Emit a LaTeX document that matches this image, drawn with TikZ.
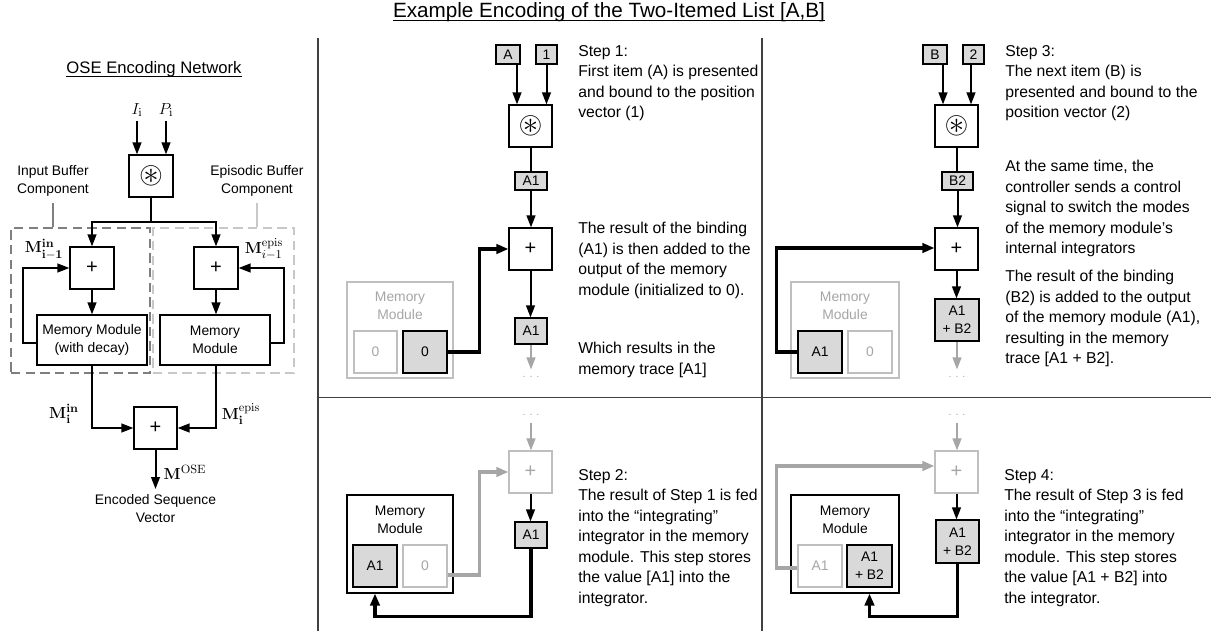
\documentclass[tikz,border=0pt]{standalone}
\usepackage{amsmath,amssymb,graphicx}
\usepackage[no-math]{fontspec}
\setmainfont{Liberation Sans}
\usetikzlibrary{arrows.meta,calc}
\definecolor{gfill}{HTML}{D9D9D9}
\definecolor{lgray}{HTML}{BFBFBF}
\definecolor{mgray}{HTML}{A6A6A6}
\definecolor{dgray}{HTML}{7F7F7F}
\definecolor{ldash}{HTML}{C8C8C8}
\definecolor{divc}{HTML}{404040}
\newcommand{\convsym}{\scalebox{2.3}{$\circledast$}}
\tikzset{
  wh/.style 2 args={minimum width=#1*0.75pt, minimum height=#2*0.75pt},
  box/.style={draw=black, line width=0.8pt, fill=white, inner sep=0pt, align=center, font=\fontsize{10.4}{13.5}\selectfont},
  gbox/.style={box, fill=gfill},
  lbox/.style={box, draw=lgray, text=mgray},
  opbox/.style={box, wh={43}{42}, font=\fontsize{15}{15}\selectfont},
  lopbox/.style={opbox, draw=lgray, text=mgray},
  convbox/.style={opbox, font=\fontsize{10}{10}\selectfont},
  tip/.style={-{Triangle[length=9pt,width=6.5pt]}},
  conn/.style={line width=1.5pt, tip},
  link/.style={line width=1.5pt},
  fb/.style={line width=2.4pt, -{Triangle[length=9pt,width=7pt]}},
  gfb/.style={fb, draw=mgray},
  garr/.style={conn, draw=mgray},
  txt/.style={inner sep=0pt, align=left, anchor=north west, font=\fontsize{11.8}{15.4}\selectfont},
  lbl/.style={inner sep=0pt, align=center, font=\fontsize{10.4}{13.7}\selectfont},
  mlbl/.style={inner sep=0pt, font=\fontsize{12.5}{14}\selectfont},
  dots/.style={inner sep=5pt, text=mgray, font=\fontsize{8}{8}\selectfont},
  divider/.style={draw=divc, line width=1.1pt},
  dbox/.style={draw, line width=1.5pt, dash pattern=on 7pt off 4pt, inner sep=0pt},
}
\begin{document}
\begin{tikzpicture}[x=0.75pt,y=-0.75pt]
\useasboundingbox (0,0) rectangle (1211,631);

% ---------- titles and dividers ----------
\node[inner sep=0pt, anchor=base, font=\fontsize{15.5}{18}\selectfont] (title) at (609,18) {Example Encoding of the Two-Itemed List [A,B]};
\draw[line width=0.8pt] ($(title.base west)+(0,2.5)$) -- ($(title.base east)+(0,2.5)$);
\draw[divider] (318,38) -- (318,631);
\draw[divider] (762,38) -- (762,631);
\draw[divider] (318,397.5) -- (1211,397.5);

% ---------- left panel ----------
\node[inner sep=0pt, anchor=base, font=\fontsize{12.5}{15}\selectfont] (osetitle) at (154,74) {OSE Encoding Network};
\draw[line width=0.7pt] ($(osetitle.base west)+(0,2.5)$) -- ($(osetitle.base east)+(0,2.5)$);

\node[dbox, draw=dgray, wh={139}{145}] (ibuf) at (80.5,300.5) {};
\node[dbox, draw=ldash, wh={141}{145}] (ebuf) at (223.5,300.5) {};

\node[lbl] (iblbl) at (53,181) {Input Buffer\\Component};
\node[lbl] (eblbl) at (257,181) {Episodic Buffer\\Component};
\path (iblbl.south) ++(0,6) coordinate (ibls);
\path (eblbl.south) ++(0,6) coordinate (ebls);
\draw[dgray, line width=1.5pt] (ibls) -- (ibls |- ibuf.north);
\draw[ldash, line width=1.5pt] (ebls) -- (ebls |- ebuf.north);

\node[mlbl] (Ii) at (137,110) {$I_{\mathrm{i}}$};
\node[mlbl] (Pi) at (166,110) {$P_{\mathrm{i}}$};
\node[convbox, wh={44}{42}] (conv0) at (151,176) {\convsym};
\path (Ii.south) ++(0,4) coordinate (Iis);
\path (Pi.south) ++(0,4) coordinate (Pis);
\draw[conn] (Iis) -- (Iis |- conv0.north);
\draw[conn] (Pis) -- (Pis |- conv0.north);

\node[opbox, wh={44}{42}] (plusL) at (92,268) {+};
\node[opbox, wh={44}{42}] (plusR) at (216,268) {+};
\node[box, wh={110}{50}] (memL) at (92,340) {Memory Module\\(with decay)};
\node[box, wh={110}{50}] (memR) at (215,340) {Memory\\Module};
\node[opbox] (plusO) at (155.5,428) {+};

\path (conv0.south) ++(0,24) coordinate (br);
\draw[link] (conv0.south) -- (br);
\draw[conn] (br) -| (plusL.north);
\draw[conn] (br) -| (plusR.north);
\draw[conn] (plusL.south) -- (plusL.south |- memL.north);
\draw[conn] (plusR.south) -- (plusR.south |- memR.north);
\draw[conn] ($(memL.west)+(0,3)$) -- ++(-13,0) |- (plusL.west);
\draw[conn] ($(memR.east)+(0,3)$) -- ++(13,0) |- (plusR.east);
\draw[conn] (memL.south) |- (plusO.west);
\draw[conn] (plusR.south |- memR.south) |- (plusO.east);
\coordinate (oseend) at (155.5,489);
\draw[conn] (plusO.south) -- (oseend);

\node[mlbl] (mlin) at (44,249) {$\mathbf{M}^{\mathbf{in}}_{\mathbf{i-1}}$};
\node[mlbl] (mrep) at (264,249) {$\mathbf{M}^{\mathrm{epis}}_{i-1}$};
\node[mlbl] (mlo) at (64,414) {$\mathbf{M}^{\mathbf{in}}_{\mathbf{i}}$};
\node[mlbl] (mro) at (241,414) {$\mathbf{M}^{\mathrm{epis}}_{\mathbf{i}}$};
\node[mlbl] (mose) at (185,472) {$\mathbf{M}^{\mathrm{OSE}}$};
\node[lbl, anchor=north] (encv) at (155.5,494) {Encoded Sequence\\Vector};

% ---------- panel 1 ----------
\node[gbox, wh={24}{19}] (inA) at (508,54.5) {A};
\node[gbox, wh={21}{19}] (in1) at (546.5,54.5) {1};
\node[convbox] (conv1) at (530.5,126) {\convsym};
\path (inA.south) ++(9,0) coordinate (inAs);
\draw[conn] (inAs) -- (inAs |- conv1.north);
\draw[conn] (in1.south) -- (in1.south |- conv1.north);
\node[gbox, wh={32}{18}] (r1) at (531,181) {A1};
\draw[link] (conv1.south) -- (conv1.south |- r1.north);
\node[opbox] (plus1) at (530.5,249) {+};
\draw[conn] (r1.south) -- (r1.south |- plus1.north);
\node[gbox, wh={32}{26}] (o1) at (531,331) {A1};
\draw[conn] (plus1.south) -- (plus1.south |- o1.north);
\node[dots] (d1) at (531,377) {. . .};
\draw[garr] (o1.south) -- (o1.south |- d1.north);
\node[lbox, wh={106}{96}] (mem1) at (400,330) {};
\node[lbl, text=mgray] (mem1t) at (400,306) {Memory\\Module};
\node[lbox, wh={43}{42}] (m1a) at (375.5,352) {0};
\node[gbox, wh={44}{42}] (m1b) at (425,352) {0};
\draw[fb] (m1b.east) -- ++(32,0) |- (plus1.west);
\node[txt] (t1a) at (578,45) {Step 1:\\First item (A) is presented\\and bound to the position\\vector (1)};
\node[txt] (t1b) at (578,222) {The result of the binding\\(A1) is then added to the\\output of the memory\\module (initialized to 0).};
\node[txt] (t1c) at (578,342) {Which results in the\\memory trace [A1]};

% ---------- panel 2 ----------
\node[dots] (d2) at (531,415) {. . .};
\node[lopbox] (plus2) at (530.5,472) {+};
\draw[garr] (d2.south) -- (d2.south |- plus2.north);
\node[gbox, wh={32}{26}] (o2) at (531,535) {A1};
\draw[conn] (plus2.south) -- (plus2.south |- o2.north);
\node[box, wh={106}{98}] (mem2) at (400,544) {};
\node[lbl] (mem2t) at (400,519.5) {Memory\\Module};
\node[gbox, wh={44}{42}] (m2a) at (375,566) {A1};
\node[lbox, wh={44}{42}] (m2b) at (425,566) {0};
\draw[fb] (o2.south) -- ++(0,68) -| (m2a.south |- mem2.south);
\draw[gfb] ($(m2b.east)+(0,9)$) -- ++(32,0) |- (plus2.west);
\node[txt] (t2) at (578,469) {Step 2:\\The result of Step 1 is fed\\into the “integrating”\\integrator in the memory\\module. This step stores\\the value [A1] into the\\integrator.};

% ---------- panel 3 ----------
\node[gbox, wh={24}{19}] (inB) at (935,54.5) {B};
\node[gbox, wh={21}{19}] (in2) at (973.5,54.5) {2};
\node[convbox] (conv3) at (956.5,126) {\convsym};
\path (inB.south) ++(8,0) coordinate (inBs);
\path (in2.south) ++(-2.5,0) coordinate (in2s);
\draw[conn] (inBs) -- (inBs |- conv3.north);
\draw[conn] (in2s) -- (in2s |- conv3.north);
\node[gbox, wh={31}{18}] (r3) at (957.5,181) {B2};
\draw[link] (conv3.south) -- (conv3.south |- r3.north);
\node[opbox] (plus3) at (956.5,249) {+};
\draw[conn] (r3.south) -- (r3.south |- plus3.north);
\node[gbox, wh={44}{42}] (o3) at (957,320) {A1\\+ B2};
\draw[conn] (plus3.south) -- (plus3.south |- o3.north);
\node[dots] (d3) at (957,377) {. . .};
\draw[garr] (o3.south) -- (o3.south |- d3.north);
\node[lbox, wh={108}{96}] (mem3) at (845,330) {};
\node[lbl, text=mgray] (mem3t) at (845,306) {Memory\\Module};
\node[gbox, wh={44}{42}] (m3a) at (820,352) {A1};
\node[lbox, wh={44}{42}] (m3b) at (870,352) {0};
\draw[fb] (m3a.west) -- ++(-21,0) |- ($(plus3.west)+(0,-1)$);
\node[txt] (t3a) at (1005,45) {Step 3:\\The next item (B) is\\presented and bound to the\\position vector (2)};
\node[txt] (t3b) at (1005,160) {At the same time, the\\controller sends a control\\signal to switch the modes\\of the memory module’s\\internal integrators};
\node[txt] (t3c) at (1005,270) {The result of the binding\\(B2) is added to the output\\of the memory module (A1),\\resulting in the memory\\trace [A1 + B2].};

% ---------- panel 4 ----------
\node[dots] (d4) at (957,415) {. . .};
\node[lopbox] (plus4) at (956.5,472) {+};
\draw[garr] (d4.south) -- (d4.south |- plus4.north);
\node[gbox, wh={43}{43}] (o4) at (957.5,541.5) {A1\\+ B2};
\draw[conn] (plus4.south) -- (plus4.south |- o4.north);
\node[box, wh={108}{98}] (mem4) at (845,544) {};
\node[lbl] (mem4t) at (845,519.5) {Memory\\Module};
\node[lbox, wh={44}{42}] (m4a) at (820,566) {A1};
\node[gbox, wh={45}{42}] (m4b) at (869.5,566) {A1\\+ B2};
\draw[fb] (o4.south) -- ++(0,53) -| (m4b.south |- mem4.south);
\draw[gfb] ($(m4a.west)+(0,2)$) -- ++(-21,0) |- ($(plus4.west)+(0,-6)$);
\node[txt] (t4) at (1004,469) {Step 4:\\The result of Step 3 is fed\\into the “integrating”\\integrator in the memory\\module. This step stores\\the value [A1 + B2] into\\the integrator.};
\end{tikzpicture}
\end{document}
